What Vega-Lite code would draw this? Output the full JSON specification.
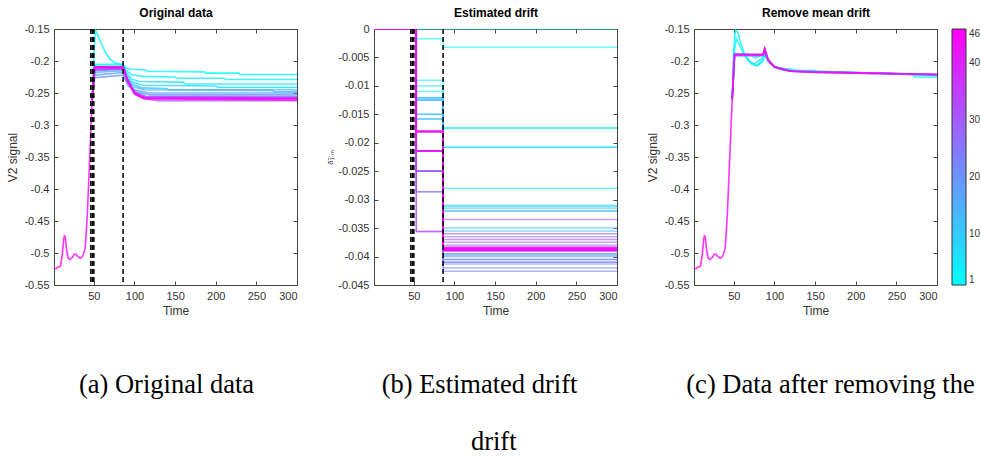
{
  "$schema": "https://vega.github.io/schema/vega-lite/v6.json",
  "background": "white",
  "padding": {"left": 6, "top": 6, "right": 0, "bottom": 0},
  "bounds": "flush",
  "spacing": 77,
  "title": {"text": "drift", "orient": "bottom", "anchor": "middle", "font": "Liberation Serif", "fontSize": 26.5, "fontWeight": "normal", "color": "#000", "offset": 30},
  "datasets": {
    "vlines": [{"t": 46.3}, {"t": 48.2}, {"t": 50}, {"t": 86}],
    "orig": [
      {"s":1,"t":48,"v":-0.26},{"s":1,"t":50,"v":-0.19},{"s":1,"t":52,"v":-0.152},{"s":1,"t":55,"v":-0.16},{"s":1,"t":60,"v":-0.175},{"s":1,"t":65,"v":-0.188},{"s":1,"t":70,"v":-0.197},{"s":1,"t":76,"v":-0.203},{"s":1,"t":86,"v":-0.206},{"s":1,"t":90,"v":-0.211},{"s":1,"t":96,"v":-0.213},{"s":1,"t":114,"v":-0.214},{"s":1,"t":116,"v":-0.216},{"s":1,"t":186,"v":-0.217},{"s":1,"t":188,"v":-0.219},{"s":1,"t":228,"v":-0.219},{"s":1,"t":230,"v":-0.221},{"s":1,"t":300,"v":-0.221},
      {"s":3,"t":48,"v":-0.26},{"s":3,"t":50,"v":-0.215},{"s":3,"t":52,"v":-0.205},{"s":3,"t":86,"v":-0.205},{"s":3,"t":90,"v":-0.215},{"s":3,"t":96,"v":-0.221},{"s":3,"t":110,"v":-0.224},{"s":3,"t":150,"v":-0.225},{"s":3,"t":152,"v":-0.227},{"s":3,"t":210,"v":-0.227},{"s":3,"t":212,"v":-0.229},{"s":3,"t":300,"v":-0.229},
      {"s":5,"t":48,"v":-0.26},{"s":5,"t":51,"v":-0.208},{"s":5,"t":86,"v":-0.208},{"s":5,"t":90,"v":-0.218},{"s":5,"t":96,"v":-0.228},{"s":5,"t":106,"v":-0.232},{"s":5,"t":160,"v":-0.233},{"s":5,"t":162,"v":-0.236},{"s":5,"t":300,"v":-0.236},
      {"s":8,"t":48,"v":-0.26},{"s":8,"t":51,"v":-0.21},{"s":8,"t":86,"v":-0.21},{"s":8,"t":90,"v":-0.222},{"s":8,"t":96,"v":-0.232},{"s":8,"t":110,"v":-0.238},{"s":8,"t":200,"v":-0.239},{"s":8,"t":202,"v":-0.241},{"s":8,"t":300,"v":-0.241},
      {"s":11,"t":48,"v":-0.26},{"s":11,"t":51,"v":-0.212},{"s":11,"t":86,"v":-0.212},{"s":11,"t":90,"v":-0.225},{"s":11,"t":97,"v":-0.236},{"s":11,"t":110,"v":-0.242},{"s":11,"t":140,"v":-0.243},{"s":11,"t":142,"v":-0.245},{"s":11,"t":300,"v":-0.245},
      {"s":14,"t":48,"v":-0.26},{"s":14,"t":51,"v":-0.218},{"s":14,"t":86,"v":-0.215},{"s":14,"t":90,"v":-0.228},{"s":14,"t":98,"v":-0.24},{"s":14,"t":112,"v":-0.245},{"s":14,"t":270,"v":-0.246},{"s":14,"t":272,"v":-0.248},{"s":14,"t":300,"v":-0.248},
      {"s":17,"t":48,"v":-0.26},{"s":17,"t":51,"v":-0.222},{"s":17,"t":86,"v":-0.218},{"s":17,"t":92,"v":-0.235},{"s":17,"t":100,"v":-0.245},{"s":17,"t":118,"v":-0.25},{"s":17,"t":300,"v":-0.25},
      {"s":20,"t":48,"v":-0.26},{"s":20,"t":51,"v":-0.226},{"s":20,"t":86,"v":-0.222},{"s":20,"t":92,"v":-0.238},{"s":20,"t":102,"v":-0.248},{"s":20,"t":120,"v":-0.253},{"s":20,"t":300,"v":-0.253},
      {"s":24,"t":48,"v":-0.26},{"s":24,"t":51,"v":-0.215},{"s":24,"t":86,"v":-0.213},{"s":24,"t":92,"v":-0.232},{"s":24,"t":100,"v":-0.248},{"s":24,"t":114,"v":-0.255},{"s":24,"t":300,"v":-0.256},
      {"s":28,"t":48,"v":-0.26},{"s":28,"t":51,"v":-0.212},{"s":28,"t":86,"v":-0.211},{"s":28,"t":91,"v":-0.23},{"s":28,"t":100,"v":-0.25},{"s":28,"t":112,"v":-0.257},{"s":28,"t":300,"v":-0.258},
      {"s":32,"t":48,"v":-0.26},{"s":32,"t":51,"v":-0.21},{"s":32,"t":86,"v":-0.21},{"s":32,"t":91,"v":-0.23},{"s":32,"t":100,"v":-0.252},{"s":32,"t":112,"v":-0.259},{"s":32,"t":130,"v":-0.262},{"s":32,"t":300,"v":-0.262},
      {"s":36,"t":48,"v":-0.26},{"s":36,"t":51,"v":-0.214},{"s":36,"t":86,"v":-0.212},{"s":36,"t":91,"v":-0.229},{"s":36,"t":100,"v":-0.249},{"s":36,"t":112,"v":-0.256},{"s":36,"t":300,"v":-0.257},
      {"s":40,"t":48,"v":-0.26},{"s":40,"t":51,"v":-0.21},{"s":40,"t":86,"v":-0.21},{"s":40,"t":91,"v":-0.228},{"s":40,"t":100,"v":-0.25},{"s":40,"t":110,"v":-0.257},{"s":40,"t":300,"v":-0.259},
      {"s":43,"t":48,"v":-0.26},{"s":43,"t":51,"v":-0.209},{"s":43,"t":86,"v":-0.209},{"s":43,"t":91,"v":-0.229},{"s":43,"t":100,"v":-0.251},{"s":43,"t":112,"v":-0.259},{"s":43,"t":300,"v":-0.261},
      {"s":46,"t":1,"v":-0.525},{"s":46,"t":4,"v":-0.524},{"s":46,"t":6,"v":-0.522},{"s":46,"t":9,"v":-0.521},{"s":46,"t":11,"v":-0.505},{"s":46,"t":13,"v":-0.478},{"s":46,"t":14,"v":-0.472},{"s":46,"t":15,"v":-0.477},{"s":46,"t":16,"v":-0.49},{"s":46,"t":18,"v":-0.506},{"s":46,"t":20,"v":-0.51},{"s":46,"t":23,"v":-0.508},{"s":46,"t":26,"v":-0.502},{"s":46,"t":28,"v":-0.502},{"s":46,"t":30,"v":-0.505},{"s":46,"t":33,"v":-0.508},{"s":46,"t":35,"v":-0.507},{"s":46,"t":37,"v":-0.503},{"s":46,"t":39,"v":-0.495},{"s":46,"t":40,"v":-0.482},{"s":46,"t":41,"v":-0.46},{"s":46,"t":42,"v":-0.44},{"s":46,"t":43,"v":-0.41},{"s":46,"t":44,"v":-0.38},{"s":46,"t":45,"v":-0.35},{"s":46,"t":46,"v":-0.32},{"s":46,"t":47,"v":-0.29},{"s":46,"t":48,"v":-0.26},
      {"s":46,"t":49,"v":-0.235},{"s":46,"t":50,"v":-0.213},{"s":46,"t":51,"v":-0.21},{"s":46,"t":86,"v":-0.21},{"s":46,"t":88,"v":-0.215},{"s":46,"t":91,"v":-0.228},{"s":46,"t":95,"v":-0.24},{"s":46,"t":100,"v":-0.249},{"s":46,"t":106,"v":-0.255},{"s":46,"t":115,"v":-0.258},{"s":46,"t":130,"v":-0.259},{"s":46,"t":300,"v":-0.259}
    ],
    "clean": [
      {"s":1,"t":48,"v":-0.26},{"s":1,"t":50,"v":-0.18},{"s":1,"t":52,"v":-0.152},{"s":1,"t":55,"v":-0.155},{"s":1,"t":58,"v":-0.17},{"s":1,"t":62,"v":-0.185},{"s":1,"t":66,"v":-0.195},{"s":1,"t":72,"v":-0.205},{"s":1,"t":80,"v":-0.207},{"s":1,"t":86,"v":-0.2},{"s":1,"t":88,"v":-0.19},{"s":1,"t":92,"v":-0.2},{"s":1,"t":100,"v":-0.21},{"s":1,"t":110,"v":-0.214},{"s":1,"t":150,"v":-0.216},{"s":1,"t":200,"v":-0.218},{"s":1,"t":270,"v":-0.22},{"s":1,"t":272,"v":-0.225},{"s":1,"t":300,"v":-0.225},
      {"s":3,"t":48,"v":-0.26},{"s":3,"t":50,"v":-0.19},{"s":3,"t":53,"v":-0.165},{"s":3,"t":57,"v":-0.175},{"s":3,"t":62,"v":-0.188},{"s":3,"t":68,"v":-0.2},{"s":3,"t":75,"v":-0.205},{"s":3,"t":80,"v":-0.2},{"s":3,"t":86,"v":-0.195},{"s":3,"t":88,"v":-0.19},{"s":3,"t":92,"v":-0.2},{"s":3,"t":100,"v":-0.21},{"s":3,"t":130,"v":-0.215},{"s":3,"t":150,"v":-0.215},{"s":3,"t":152,"v":-0.218},{"s":3,"t":300,"v":-0.221},
      {"s":5,"t":48,"v":-0.26},{"s":5,"t":51,"v":-0.19},{"s":5,"t":60,"v":-0.19},{"s":5,"t":66,"v":-0.195},{"s":5,"t":72,"v":-0.203},{"s":5,"t":78,"v":-0.208},{"s":5,"t":84,"v":-0.2},{"s":5,"t":86,"v":-0.192},{"s":5,"t":88,"v":-0.184},{"s":5,"t":92,"v":-0.198},{"s":5,"t":100,"v":-0.209},{"s":5,"t":120,"v":-0.215},{"s":5,"t":200,"v":-0.218},{"s":5,"t":300,"v":-0.222},
      {"s":8,"t":48,"v":-0.26},{"s":8,"t":51,"v":-0.188},{"s":8,"t":70,"v":-0.19},{"s":8,"t":76,"v":-0.195},{"s":8,"t":86,"v":-0.19},{"s":8,"t":88,"v":-0.185},{"s":8,"t":92,"v":-0.199},{"s":8,"t":100,"v":-0.209},{"s":8,"t":130,"v":-0.216},{"s":8,"t":230,"v":-0.219},{"s":8,"t":300,"v":-0.223},
      {"s":14,"t":48,"v":-0.26},{"s":14,"t":51,"v":-0.192},{"s":14,"t":86,"v":-0.192},{"s":14,"t":88,"v":-0.183},{"s":14,"t":92,"v":-0.197},{"s":14,"t":100,"v":-0.21},{"s":14,"t":120,"v":-0.216},{"s":14,"t":200,"v":-0.219},{"s":14,"t":300,"v":-0.222},
      {"s":24,"t":48,"v":-0.26},{"s":24,"t":51,"v":-0.191},{"s":24,"t":86,"v":-0.191},{"s":24,"t":88,"v":-0.181},{"s":24,"t":92,"v":-0.198},{"s":24,"t":100,"v":-0.209},{"s":24,"t":120,"v":-0.216},{"s":24,"t":300,"v":-0.221},
      {"s":32,"t":48,"v":-0.26},{"s":32,"t":51,"v":-0.19},{"s":32,"t":86,"v":-0.19},{"s":32,"t":88,"v":-0.182},{"s":32,"t":92,"v":-0.198},{"s":32,"t":100,"v":-0.209},{"s":32,"t":120,"v":-0.216},{"s":32,"t":300,"v":-0.221},
      {"s":40,"t":48,"v":-0.26},{"s":40,"t":51,"v":-0.19},{"s":40,"t":86,"v":-0.19},{"s":40,"t":88,"v":-0.18},{"s":40,"t":92,"v":-0.197},{"s":40,"t":100,"v":-0.209},{"s":40,"t":120,"v":-0.216},{"s":40,"t":300,"v":-0.221},
      {"s":46,"t":1,"v":-0.525},{"s":46,"t":4,"v":-0.524},{"s":46,"t":6,"v":-0.522},{"s":46,"t":9,"v":-0.521},{"s":46,"t":11,"v":-0.505},{"s":46,"t":13,"v":-0.478},{"s":46,"t":14,"v":-0.472},{"s":46,"t":15,"v":-0.477},{"s":46,"t":16,"v":-0.49},{"s":46,"t":18,"v":-0.506},{"s":46,"t":20,"v":-0.51},{"s":46,"t":23,"v":-0.508},{"s":46,"t":26,"v":-0.502},{"s":46,"t":28,"v":-0.502},{"s":46,"t":30,"v":-0.505},{"s":46,"t":33,"v":-0.508},{"s":46,"t":35,"v":-0.507},{"s":46,"t":37,"v":-0.503},{"s":46,"t":39,"v":-0.495},{"s":46,"t":40,"v":-0.482},{"s":46,"t":41,"v":-0.46},{"s":46,"t":42,"v":-0.44},{"s":46,"t":43,"v":-0.41},{"s":46,"t":44,"v":-0.38},{"s":46,"t":45,"v":-0.35},{"s":46,"t":46,"v":-0.32},{"s":46,"t":47,"v":-0.29},{"s":46,"t":48,"v":-0.26},
      {"s":46,"t":49,"v":-0.235},{"s":46,"t":50,"v":-0.2},{"s":46,"t":51,"v":-0.19},{"s":46,"t":86,"v":-0.19},{"s":46,"t":87,"v":-0.186},{"s":46,"t":88,"v":-0.179},{"s":46,"t":89,"v":-0.19},{"s":46,"t":92,"v":-0.198},{"s":46,"t":96,"v":-0.205},{"s":46,"t":100,"v":-0.209},{"s":46,"t":108,"v":-0.213},{"s":46,"t":120,"v":-0.216},{"s":46,"t":150,"v":-0.218},{"s":46,"t":200,"v":-0.219},{"s":46,"t":300,"v":-0.221}
    ],
    "drift": [
      {"s":1,"t":1,"v":0},{"s":1,"t":53,"v":0},{"s":1,"t":86,"v":0},{"s":1,"t":300,"v":0},
      {"s":2,"t":1,"v":0},{"s":2,"t":53,"v":-0.0017},{"s":2,"t":86,"v":-0.0032},{"s":2,"t":300,"v":-0.0032},
      {"s":3,"t":1,"v":0},{"s":3,"t":53,"v":-0.009},{"s":3,"t":86,"v":-0.0174},{"s":3,"t":300,"v":-0.0174},
      {"s":4,"t":1,"v":0},{"s":4,"t":53,"v":-0.01},{"s":4,"t":86,"v":-0.0174},{"s":4,"t":300,"v":-0.0174},
      {"s":5,"t":1,"v":0},{"s":5,"t":53,"v":-0.011},{"s":5,"t":86,"v":-0.028},{"s":5,"t":300,"v":-0.028},
      {"s":6,"t":1,"v":0},{"s":6,"t":53,"v":-0.0121},{"s":6,"t":86,"v":-0.0208},{"s":6,"t":300,"v":-0.0208},
      {"s":7,"t":1,"v":0},{"s":7,"t":53,"v":-0.0125},{"s":7,"t":86,"v":-0.0208},{"s":7,"t":300,"v":-0.0208},
      {"s":8,"t":1,"v":0},{"s":8,"t":53,"v":-0.015},{"s":8,"t":86,"v":-0.031},{"s":8,"t":300,"v":-0.031},
      {"s":9,"t":1,"v":0},{"s":9,"t":53,"v":-0.0158},{"s":9,"t":86,"v":-0.0312},{"s":9,"t":300,"v":-0.0312},
      {"s":10,"t":1,"v":0},{"s":10,"t":53,"v":-0.0121},{"s":10,"t":86,"v":-0.035},{"s":10,"t":300,"v":-0.035},
      {"s":11,"t":1,"v":0},{"s":11,"t":53,"v":-0.0125},{"s":11,"t":86,"v":-0.0315},{"s":11,"t":300,"v":-0.0315},
      {"s":12,"t":1,"v":0},{"s":12,"t":53,"v":-0.015},{"s":12,"t":86,"v":-0.032},{"s":12,"t":300,"v":-0.032},
      {"s":13,"t":1,"v":0},{"s":13,"t":53,"v":-0.0158},{"s":13,"t":86,"v":-0.0355},{"s":13,"t":300,"v":-0.0355},
      {"s":14,"t":1,"v":0},{"s":14,"t":53,"v":-0.0121},{"s":14,"t":86,"v":-0.032},{"s":14,"t":300,"v":-0.032},
      {"s":15,"t":1,"v":0},{"s":15,"t":53,"v":-0.0125},{"s":15,"t":86,"v":-0.0395},{"s":15,"t":300,"v":-0.0395},
      {"s":16,"t":1,"v":0},{"s":16,"t":53,"v":-0.018},{"s":16,"t":86,"v":-0.0398},{"s":16,"t":300,"v":-0.0398},
      {"s":17,"t":1,"v":0},{"s":17,"t":53,"v":-0.0214},{"s":17,"t":86,"v":-0.04},{"s":17,"t":300,"v":-0.04},
      {"s":18,"t":1,"v":0},{"s":18,"t":53,"v":-0.0214},{"s":18,"t":86,"v":-0.0405},{"s":18,"t":300,"v":-0.0405},
      {"s":19,"t":1,"v":0},{"s":19,"t":53,"v":-0.025},{"s":19,"t":86,"v":-0.041},{"s":19,"t":300,"v":-0.041},
      {"s":20,"t":1,"v":0},{"s":20,"t":53,"v":-0.0214},{"s":20,"t":86,"v":-0.0395},{"s":20,"t":300,"v":-0.0395},
      {"s":21,"t":1,"v":0},{"s":21,"t":53,"v":-0.025},{"s":21,"t":86,"v":-0.0413},{"s":21,"t":300,"v":-0.0413},
      {"s":22,"t":1,"v":0},{"s":22,"t":53,"v":-0.0286},{"s":22,"t":86,"v":-0.042},{"s":22,"t":300,"v":-0.042},
      {"s":23,"t":1,"v":0},{"s":23,"t":53,"v":-0.025},{"s":23,"t":86,"v":-0.0426},{"s":23,"t":300,"v":-0.0426},
      {"s":24,"t":1,"v":0},{"s":24,"t":53,"v":-0.0356},{"s":24,"t":86,"v":-0.0405},{"s":24,"t":300,"v":-0.0405},
      {"s":25,"t":1,"v":0},{"s":25,"t":53,"v":-0.0214},{"s":25,"t":86,"v":-0.0365},{"s":25,"t":300,"v":-0.0365},
      {"s":26,"t":1,"v":0},{"s":26,"t":53,"v":-0.0286},{"s":26,"t":86,"v":-0.041},{"s":26,"t":300,"v":-0.041},
      {"s":27,"t":1,"v":0},{"s":27,"t":53,"v":-0.025},{"s":27,"t":86,"v":-0.0375},{"s":27,"t":300,"v":-0.0375},
      {"s":28,"t":1,"v":0},{"s":28,"t":53,"v":-0.0214},{"s":28,"t":86,"v":-0.038},{"s":28,"t":300,"v":-0.038},
      {"s":29,"t":1,"v":0},{"s":29,"t":53,"v":-0.025},{"s":29,"t":86,"v":-0.0388},{"s":29,"t":300,"v":-0.0388},
      {"s":30,"t":1,"v":0},{"s":30,"t":53,"v":-0.0214},{"s":30,"t":86,"v":-0.0335},{"s":30,"t":300,"v":-0.0335},
      {"s":31,"t":1,"v":0},{"s":31,"t":53,"v":-0.018},{"s":31,"t":86,"v":-0.036},{"s":31,"t":300,"v":-0.036},
      {"s":32,"t":1,"v":0},{"s":32,"t":53,"v":-0.0214},{"s":32,"t":86,"v":-0.037},{"s":32,"t":300,"v":-0.037},
      {"s":33,"t":1,"v":0},{"s":33,"t":53,"v":-0.025},{"s":33,"t":86,"v":-0.0385},{"s":33,"t":300,"v":-0.0385},
      {"s":34,"t":1,"v":0},{"s":34,"t":53,"v":-0.0214},{"s":34,"t":86,"v":-0.0388},{"s":34,"t":300,"v":-0.0388},
      {"s":35,"t":1,"v":0},{"s":35,"t":53,"v":-0.018},{"s":35,"t":86,"v":-0.039},{"s":35,"t":300,"v":-0.039},
      {"s":36,"t":1,"v":0},{"s":36,"t":53,"v":-0.0214},{"s":36,"t":86,"v":-0.0385},{"s":36,"t":300,"v":-0.0385},
      {"s":37,"t":1,"v":0},{"s":37,"t":53,"v":-0.0356},{"s":37,"t":86,"v":-0.0388},{"s":37,"t":300,"v":-0.0388},
      {"s":38,"t":1,"v":0},{"s":38,"t":53,"v":-0.0214},{"s":38,"t":86,"v":-0.039},{"s":38,"t":300,"v":-0.039},
      {"s":39,"t":1,"v":0},{"s":39,"t":53,"v":-0.018},{"s":39,"t":86,"v":-0.0385},{"s":39,"t":300,"v":-0.0385},
      {"s":40,"t":1,"v":0},{"s":40,"t":53,"v":-0.0214},{"s":40,"t":86,"v":-0.0388},{"s":40,"t":300,"v":-0.0388},
      {"s":41,"t":1,"v":0},{"s":41,"t":53,"v":-0.018},{"s":41,"t":86,"v":-0.039},{"s":41,"t":300,"v":-0.039},
      {"s":42,"t":1,"v":0},{"s":42,"t":53,"v":-0.0214},{"s":42,"t":86,"v":-0.0383},{"s":42,"t":300,"v":-0.0383},
      {"s":43,"t":1,"v":0},{"s":43,"t":53,"v":-0.018},{"s":43,"t":86,"v":-0.0386},{"s":43,"t":300,"v":-0.0386},
      {"s":44,"t":1,"v":0},{"s":44,"t":53,"v":-0.0214},{"s":44,"t":86,"v":-0.0389},{"s":44,"t":300,"v":-0.0389},
      {"s":45,"t":1,"v":0},{"s":45,"t":53,"v":-0.018},{"s":45,"t":86,"v":-0.0387},{"s":45,"t":300,"v":-0.0387},
      {"s":46,"t":1,"v":0},{"s":46,"t":53,"v":-0.018},{"s":46,"t":86,"v":-0.0386},{"s":46,"t":300,"v":-0.0386}
    ]
  },
  "hconcat": [
    {
      "width": 243, "height": 256,
      "title": {"text": "(a) Original data", "orient": "bottom", "offset": 56, "dx": -9, "font": "Liberation Serif", "fontSize": 26.5, "fontWeight": "normal", "color": "#000"},
      "resolve": {"axis": {"x": "independent", "y": "independent"}},
      "layer": [
        {
          "data": {"name": "orig"},
          "mark": {"type": "line", "strokeWidth": 1.6, "strokeOpacity": 0.8, "clip": true},
          "encoding": {
            "x": {"field": "t", "type": "quantitative", "scale": {"domain": [1, 300], "nice": false, "zero": false}, "axis": {"orient": "bottom", "values": [50, 100, 150, 200, 250, 300], "title": "Time"}},
            "y": {"field": "v", "type": "quantitative", "scale": {"domain": [-0.55, -0.15], "nice": false, "zero": false}, "axis": {"orient": "left", "values": [-0.55, -0.5, -0.45, -0.4, -0.35, -0.3, -0.25, -0.2, -0.15], "format": ".2~f", "labelExpr": "replace(datum.label, '−', '-')", "title": "V2 signal"}},
            "color": {"field": "s", "type": "quantitative", "scale": {"domain": [1, 46], "range": ["#00ffff", "#ff00ff"], "interpolate": "rgb"}, "legend": {"orient": "none", "legendX": 898, "legendY": 0, "direction": "vertical", "gradientLength": 256, "gradientThickness": 14, "values": [1, 10, 20, 30, 40, 46], "title": null, "labelFontSize": 10, "labelColor": "#333", "labelFont": "Liberation Sans", "gradientStrokeColor": "#333", "gradientStrokeWidth": 1, "labelOffset": 3, "encode": {"gradient": {"update": {"opacity": {"value": 1}}}}}},
            "detail": {"field": "s", "type": "nominal"}
          }
        },
        {
          "data": {"name": "orig"},
          "mark": {"type": "line", "opacity": 0},
          "encoding": {
            "x": {"field": "t", "type": "quantitative", "axis": {"orient": "top", "values": [50, 100, 150, 200, 250, 300], "labels": false, "title": "Original data", "titleFontWeight": "bold", "titleColor": "#000", "titleFontSize": 12, "titlePadding": 9}},
            "y": {"field": "v", "type": "quantitative", "axis": {"orient": "right", "values": [-0.55, -0.5, -0.45, -0.4, -0.35, -0.3, -0.25, -0.2, -0.15], "labels": false, "title": null}}
          }
        },
        {
          "data": {"name": "vlines"},
          "mark": {"type": "rule", "color": "#000", "strokeDash": [5, 3], "strokeWidth": 1.5},
          "encoding": {"x": {"field": "t", "type": "quantitative", "axis": null}}
        }
      ]
    },
    {
      "width": 243, "height": 256,
      "title": {"text": "(b) Estimated drift", "orient": "bottom", "offset": 56, "dx": -16, "font": "Liberation Serif", "fontSize": 26.5, "fontWeight": "normal", "color": "#000"},
      "resolve": {"axis": {"x": "independent", "y": "independent"}},
      "layer": [
        {
          "data": {"name": "drift"},
          "mark": {"type": "line", "interpolate": "step-after", "strokeWidth": 1.5, "strokeOpacity": 0.6, "clip": true},
          "encoding": {
            "x": {"field": "t", "type": "quantitative", "scale": {"domain": [1, 300], "nice": false, "zero": false}, "axis": {"orient": "bottom", "values": [50, 100, 150, 200, 250, 300], "title": "Time"}},
            "y": {"field": "v", "type": "quantitative", "scale": {"domain": [-0.045, 0], "nice": false, "zero": false}, "axis": {"orient": "left", "values": [-0.045, -0.04, -0.035, -0.03, -0.025, -0.02, -0.015, -0.01, -0.005, 0], "format": ".3~f", "labelExpr": "replace(datum.label, '−', '-')", "title": "δ̃₁:ₘ", "titleFontSize": 8, "titlePadding": 3}},
            "color": {"field": "s", "type": "quantitative", "scale": {"domain": [1, 46], "range": ["#00ffff", "#ff00ff"], "interpolate": "rgb"}, "legend": {"orient": "none", "legendX": 898, "legendY": 0, "direction": "vertical", "gradientLength": 256, "gradientThickness": 14, "values": [1, 10, 20, 30, 40, 46], "title": null, "labelFontSize": 10, "labelColor": "#333", "labelFont": "Liberation Sans", "gradientStrokeColor": "#333", "gradientStrokeWidth": 1, "labelOffset": 3, "encode": {"gradient": {"update": {"opacity": {"value": 1}}}}}},
            "detail": {"field": "s", "type": "nominal"}
          }
        },
        {
          "data": {"name": "drift"},
          "mark": {"type": "line", "opacity": 0},
          "encoding": {
            "x": {"field": "t", "type": "quantitative", "axis": {"orient": "top", "values": [50, 100, 150, 200, 250, 300], "labels": false, "title": "Estimated drift", "titleFontWeight": "bold", "titleColor": "#000", "titleFontSize": 12, "titlePadding": 9}},
            "y": {"field": "v", "type": "quantitative", "axis": {"orient": "right", "values": [-0.045, -0.04, -0.035, -0.03, -0.025, -0.02, -0.015, -0.01, -0.005, 0], "labels": false, "title": null}}
          }
        },
        {
          "data": {"name": "vlines"},
          "mark": {"type": "rule", "color": "#000", "strokeDash": [5, 3], "strokeWidth": 1.5},
          "encoding": {"x": {"field": "t", "type": "quantitative", "axis": null}}
        }
      ]
    },
    {
      "width": 243, "height": 256,
      "title": {"text": "(c) Data after removing the", "orient": "bottom", "offset": 56, "dx": 15, "font": "Liberation Serif", "fontSize": 26.5, "fontWeight": "normal", "color": "#000"},
      "resolve": {"axis": {"x": "independent", "y": "independent"}},
      "layer": [
        {
          "data": {"name": "clean"},
          "mark": {"type": "line", "strokeWidth": 1.6, "strokeOpacity": 0.8, "clip": true},
          "encoding": {
            "x": {"field": "t", "type": "quantitative", "scale": {"domain": [1, 300], "nice": false, "zero": false}, "axis": {"orient": "bottom", "values": [50, 100, 150, 200, 250, 300], "title": "Time"}},
            "y": {"field": "v", "type": "quantitative", "scale": {"domain": [-0.55, -0.15], "nice": false, "zero": false}, "axis": {"orient": "left", "values": [-0.55, -0.5, -0.45, -0.4, -0.35, -0.3, -0.25, -0.2, -0.15], "format": ".2~f", "labelExpr": "replace(datum.label, '−', '-')", "title": "V2 signal"}},
            "color": {"field": "s", "type": "quantitative", "scale": {"domain": [1, 46], "range": ["#00ffff", "#ff00ff"], "interpolate": "rgb"}, "legend": {"orient": "none", "legendX": 898, "legendY": 0, "direction": "vertical", "gradientLength": 256, "gradientThickness": 14, "values": [1, 10, 20, 30, 40, 46], "title": null, "labelFontSize": 10, "labelColor": "#333", "labelFont": "Liberation Sans", "gradientStrokeColor": "#333", "gradientStrokeWidth": 1, "labelOffset": 3, "encode": {"gradient": {"update": {"opacity": {"value": 1}}}}}},
            "detail": {"field": "s", "type": "nominal"}
          }
        },
        {
          "data": {"name": "clean"},
          "mark": {"type": "line", "opacity": 0},
          "encoding": {
            "x": {"field": "t", "type": "quantitative", "axis": {"orient": "top", "values": [50, 100, 150, 200, 250, 300], "labels": false, "title": "Remove mean drift", "titleFontWeight": "bold", "titleColor": "#000", "titleFontSize": 12, "titlePadding": 9}},
            "y": {"field": "v", "type": "quantitative", "axis": {"orient": "right", "values": [-0.55, -0.5, -0.45, -0.4, -0.35, -0.3, -0.25, -0.2, -0.15], "labels": false, "title": null}}
          }
        }
      ]
    }
  ],
  "config": {
    "font": "Liberation Sans",
    "view": {"stroke": "#444", "strokeWidth": 1},
    "axis": {"domain": false, "grid": false, "labelFont": "Liberation Sans", "labelFontSize": 11, "labelColor": "#333", "tickColor": "#444", "tickSize": -4, "labelPadding": 9, "titleFont": "Liberation Sans", "titleFontSize": 12, "titleFontWeight": "normal", "titleColor": "#333", "titlePadding": 4}
  }
}
